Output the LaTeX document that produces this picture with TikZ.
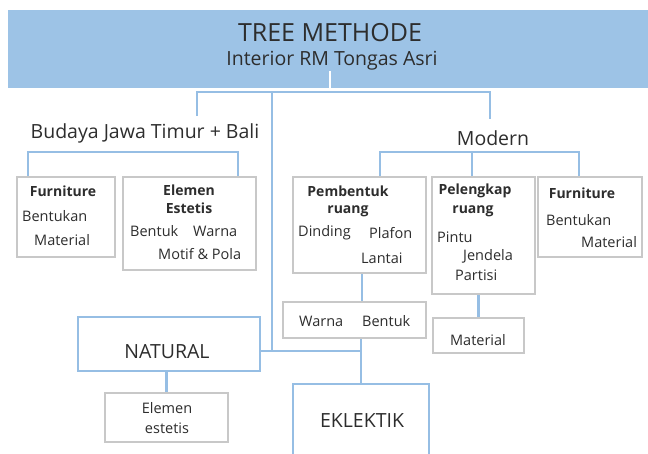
\documentclass[tikz,border=0pt]{standalone}
\usepackage{fontspec}
\setmainfont{Open Sans}
\definecolor{bandblue}{RGB}{157,195,230}
\definecolor{lineblue}{RGB}{150,190,228}
\definecolor{boxgray}{RGB}{200,200,200}
\definecolor{inkgray}{RGB}{45,45,45}

\begin{document}
\begin{tikzpicture}[x=1pt, y=-1pt,
  link/.style={lineblue, line width=2.6pt},
  greybox/.style={draw=boxgray, line width=2.6pt, fill=white, inner sep=0pt},
  bluebox/.style={draw=lineblue, line width=2.6pt, fill=white, inner sep=0pt},
  txt/.style={inkgray, inner sep=0pt, font=\fontsize{14.5}{16}\selectfont},
  bld/.style={inkgray, inner sep=0pt, font=\fontsize{14}{16}\selectfont\bfseries},
  big/.style={inkgray, inner sep=0pt, font=\fontsize{19.5}{22}\selectfont}]
\useasboundingbox (0,0) rectangle (648,453);
\clip (0,0) rectangle (648,453);

% header band
\node[fill=bandblue, minimum width=640pt, minimum height=78pt, inner sep=0pt] (header) at (328,49) {};
\node[inkgray, inner sep=0pt, font=\fontsize{25}{28}\selectfont] (title) at (330,33) {TREE METHODE};
\node[inkgray, inner sep=0pt, font=\fontsize{19.5}{22}\selectfont] (subtitle) at (332,61) {Interior RM Tongas Asri};

% first level
\coordinate (top) at (330,92);
\coordinate (stem) at (330,71);
\coordinate (trunk) at (272,92);
\coordinate (budayaTop) at (197,116);
\coordinate (modernTop) at (490,119);
\draw[white, line width=2.4pt] (stem) -- (header.south -| stem);
\draw[link] (budayaTop) |- (top) -| (modernTop);
\node[big] (budaya) at (145,133) {Budaya Jawa Timur + Bali};
\node[big] (modern) at (493,138) {Modern};

% budaya group
\node[greybox, minimum width=98pt, minimum height=80pt] (furnL) at (66,217) {};
\node[greybox, minimum width=133pt, minimum height=93pt] (estetis) at (189.5,223.5) {};
\coordinate (bL) at (28,152);
\coordinate (bR) at (238,152);
\draw[link] (furnL.north -| bL) -- (bL) -- (bR) -- (estetis.north -| bR);
\node[bld] (furnLt) at (63,191) {Furniture};
\node[txt, anchor=west] (furnL1) at (22,216) {Bentukan};
\node[txt, anchor=west] (furnL2) at (34,240) {Material};
\node[bld] (estetis1) at (189,190) {Elemen};
\node[bld] (estetis2) at (189,208) {Estetis};
\node[txt, anchor=west] (estetis3) at (130,231) {Bentuk};
\node[txt, anchor=west] (estetis4) at (193,231) {Warna};
\node[txt, anchor=west] (estetis5) at (158,254) {Motif \& Pola};

% modern group
\node[greybox, minimum width=133pt, minimum height=96pt] (pembentuk) at (359.5,225) {};
\node[greybox, minimum width=103pt, minimum height=117pt] (pelengkap) at (483.5,235.5) {};
\node[greybox, minimum width=104pt, minimum height=80pt] (furnR) at (590,217) {};
\coordinate (mL) at (380,152);
\coordinate (mM) at (472,152);
\coordinate (mR) at (579,152);
\draw[link] (pembentuk.north -| mL) -- (mL) -- (mR) -- (furnR.north -| mR);
\draw[link] (mM) -- (pelengkap.north -| mM);
\node[bld] (pembentuk1) at (348,191) {Pembentuk};
\node[bld] (pembentuk2) at (348,211) {ruang};
\node[txt, anchor=west] (pembentuk3) at (298,233) {Dinding};
\node[txt, anchor=west] (pembentuk4) at (369,233) {Plafon};
\node[txt, anchor=west] (pembentuk5) at (361,258) {Lantai};
\node[bld] (pelengkap1) at (475,191) {Pelengkap};
\node[bld] (pelengkap2) at (473,211) {ruang};
\node[txt, anchor=west] (pelengkap3) at (437,237) {Pintu};
\node[txt, anchor=west] (pelengkap4) at (463,256) {Jendela};
\node[txt, anchor=west] (pelengkap5) at (455,275) {Partisi};
\node[bld] (furnRt) at (582,193) {Furniture};
\node[txt, anchor=west] (furnR1) at (546,220) {Bentukan};
\node[txt, anchor=west] (furnR2) at (581,242) {Material};

\node[greybox, minimum width=143pt, minimum height=36pt] (warna) at (354.5,320) {};
\node[txt, anchor=west] (warna1) at (299,321) {Warna};
\node[txt, anchor=west] (warna2) at (362,321) {Bentuk};
\node[greybox, minimum width=91pt, minimum height=35pt] (material) at (478.5,335.5) {};
\node[txt] (material1) at (478,340) {Material};
\draw[link] (pembentuk.south -| 362,0) -- (warna.north -| 362,0);
\draw[link] (material.north) -- (material.north |- pelengkap.south);

% bottom
\node[bluebox, minimum width=182pt, minimum height=54pt] (natural) at (169,344) {};
\node[big] (naturalt) at (167,352) {NATURAL};
\node[greybox, minimum width=123pt, minimum height=49pt] (elemen) at (166.5,417.5) {};
\node[txt] (elemen1) at (167,408) {Elemen};
\node[txt] (elemen2) at (167,428) {estetis};
\node[bluebox, minimum width=136pt, minimum height=100pt] (eklektik) at (361,434) {};
\node[big] (eklektikt) at (362,421) {EKLEKTIK};
\coordinate (hub) at (272,351);
\draw[link] (trunk) -- (hub);
\draw[link] (natural.east |- hub) -- (hub) -- (hub -| eklektik.north);
\draw[link] (warna.south -| eklektik.north) -- (eklektik.north);
\draw[link] (natural.south -| elemen.north) -- (elemen.north);
\end{tikzpicture}
\end{document}
